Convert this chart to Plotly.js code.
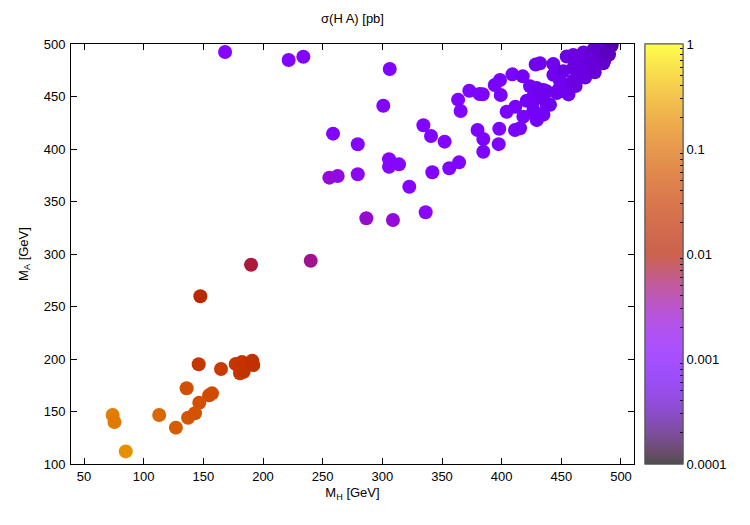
<!DOCTYPE html>
<html>
<head>
<meta charset="utf-8">
<script src="https://cdn.plot.ly/plotly-3.0.1.min.js"></script>
<style>html,body{margin:0;padding:0;background:#fff;}#chart{width:750px;height:525px;}</style>
</head>
<body>
<div id="chart"></div>
<script>
// M_H [GeV]
var mH = [
  74, 75.5, 85, 113, 127, 136, 137.2, 143, 146.6, 146.1, 147.5, 154.8, 157.3, 164.8, 177.1, 182.4, 180.7, 183.8, 191, 191.9, 190, 240,
  168.2, 221.5, 233.8, 306.2, 300.8, 258.7, 279.4, 334.4, 340.8, 352.2, 305.6, 305.6, 314, 255.6, 262.6, 279.4, 341.9, 322.6,
  286.6, 308.9, 336.3, 356.1, 364.3, 363.5, 365.6, 372.9, 381.5, 384.1, 379.8, 384.6, 384.6, 397.5, 398, 394.2, 398.6, 399.2,
  409, 417.7, 404.2, 411.5, 411.2, 415.4, 418.2, 421, 426.6, 430.8, 429.4, 423.8, 426.6, 428.5, 432.1, 443.3, 443.3, 435,
  437.7, 447.5, 457.3, 454.5, 460, 468.5, 476.8, 483.8, 492.2, 476.8, 482.4, 471.2, 465.7, 460, 485.2, 451.7, 448.9, 460,
  465.7, 474, 482.4, 488, 468.5, 479.6, 451.7, 446.1, 437.7, 429.4, 426.6, 435, 440.5, 435, 429.4, 456, 462, 470, 478, 486, 490
];
// M_A [GeV]
var mA = [
  146.7, 140, 112, 146.7, 134.6, 172.1, 144.1, 148.3, 158.4, 195, 259.7, 165.4, 167.3, 190.5, 195.2, 197.1, 186.4, 187.9, 198.4, 194.3, 289.8, 293.6,
  492.4, 484.8, 487.9, 476.2, 441.2, 414.6, 404.5, 422.6, 412.4, 407, 390.2, 383.1, 385.4, 372.7, 374.3, 375.9, 377.8, 364.1,
  334, 332.4, 339.7, 381.6, 387.3, 447, 436.2, 455.5, 452.4, 452.1, 418.1, 409.5, 397.4, 404.6, 419.3, 460.9, 465.7, 451.4,
  471.1, 469.2, 435.5, 440.3, 418.1, 419.7, 430.8, 446, 437.1, 432.4, 427.6, 459.8, 450, 480.5, 481.6, 481, 470.6, 456.2,
  441.9, 456.2, 462, 488.1, 489.6, 492, 494.6, 496.2, 498.5, 484.8, 491.1, 478.4, 472.1, 465, 481.6, 474, 464.5, 477.1,
  483.5, 486.7, 488.3, 491.4, 477.1, 480.3, 454.9, 453.3, 454.9, 458.1, 445.4, 448.6, 442.2, 432.7, 429.5, 452, 460, 468, 473, 484, 490
];
// sigma(H A) [pb]
var sigma = [
  0.14, 0.13, 0.2, 0.09, 0.07, 0.05, 0.06, 0.055, 0.05, 0.025, 0.014, 0.045, 0.045, 0.03, 0.025, 0.022, 0.025, 0.022, 0.02, 0.02, 0.007, 0.0042,
  0.0013, 0.0011, 0.0011, 0.001, 0.001, 0.0011, 0.0012, 0.001, 0.001, 0.001, 0.0012, 0.0012, 0.0012, 0.0023, 0.002, 0.0016, 0.0011, 0.0013,
  0.0025, 0.0022, 0.0015, 0.001, 0.001, 0.001, 0.001, 0.0009, 0.0009, 0.0009, 0.0009, 0.0009, 0.0009, 0.0009, 0.0009, 0.0008, 0.0008, 0.0008,
  0.0008, 0.0007, 0.0008, 0.0008, 0.0008, 0.0008, 0.0008, 0.0007, 0.0007, 0.0007, 0.0007, 0.0007, 0.0007, 0.0006, 0.0006, 0.0006, 0.0006, 0.0006,
  0.0007, 0.0006, 0.0005, 0.0005, 0.0005, 0.0005, 0.0004, 0.0004, 0.0003, 0.00045, 0.0004, 0.00045, 0.0005, 0.0005, 0.0004, 0.0005, 0.0006, 0.0005,
  0.0005, 0.00045, 0.0004, 0.00035, 0.0005, 0.00045, 0.0006, 0.0006, 0.0006, 0.0006, 0.0007, 0.0006, 0.0006, 0.0007, 0.0007, 0.0006, 0.0005, 0.0005, 0.00045, 0.0004, 0.00035
];
var cbTickValues = [0.0001, 0.001, 0.01, 0.1, 1];
var cbTickLabels = ["0.0001", "0.001", "0.01", "0.1", "1"];
var xTicks = [50, 100, 150, 200, 250, 300, 350, 400, 450, 500];
var yTicks = [100, 150, 200, 250, 300, 350, 400, 450, 500];

// gnuplot-like palette (rgbformulae 7,5,15)
function pal(t, alpha) {
  var r = Math.sqrt(t), g = Math.pow(t, 3), b = Math.max(0, Math.sin(2 * Math.PI * t));
  function c(v) { return Math.round(255 * (v * alpha + (1 - alpha))); }
  return 'rgb(' + c(r) + ',' + c(g) + ',' + c(b) + ')';
}
function scale(alpha) {
  var s = [];
  for (var i = 0; i <= 40; i++) { var t = i / 40; s.push([t, pal(t, alpha)]); }
  return s;
}
var logSigma = sigma.map(function (v) { return Math.log10(v); });
var majorVals = cbTickValues.map(function (v) { return Math.log10(v); });
var minorVals = [];
for (var d = -4; d < 0; d++) { for (var k = 2; k <= 9; k++) minorVals.push(d + Math.log10(k)); }

var font = {family: 'Liberation Sans, Arial, sans-serif', size: 13, color: '#000'};
var cbBase = {
  x: 1.0195, xanchor: 'left', xref: 'paper', y: 0.5, yanchor: 'middle', len: 1, lenmode: 'fraction',
  thickness: 38, thicknessmode: 'pixels', outlinewidth: 1, outlinecolor: '#555', xpad: 0, ypad: 0,
  tickmode: 'array', ticks: 'inside', tickcolor: '#000', tickfont: font
};

var traces = [
  {
    type: 'scatter', mode: 'markers', x: mH, y: mA, showlegend: false, hoverinfo: 'x+y',
    marker: {size: 14, color: logSigma, colorscale: scale(1), cmin: -4, cmax: 0, showscale: false, line: {width: 0}}
  },
  {
    type: 'scatter', mode: 'markers', x: [null], y: [null], showlegend: false, hoverinfo: 'skip',
    marker: {size: 1, color: [-4], colorscale: scale(0.7), cmin: -4, cmax: 0, showscale: true,
      colorbar: Object.assign({}, cbBase, {tickvals: majorVals, ticktext: cbTickLabels, ticklen: 6, tickwidth: 1, ticklabelposition: 'outside'})}
  },
  {
    type: 'scatter', mode: 'markers', x: [null], y: [null], showlegend: false, hoverinfo: 'skip',
    marker: {size: 1, color: [-4], colorscale: scale(0.7), cmin: -4, cmax: 0, showscale: true,
      colorbar: Object.assign({}, cbBase, {tickvals: minorVals, ticklen: 3, tickwidth: 1, showticklabels: false})}
  }
];

var axisCommon = {
  showgrid: false, zeroline: false, showline: true, linecolor: '#000', linewidth: 1, mirror: 'ticks',
  ticks: 'inside', ticklen: 6, tickwidth: 1, tickcolor: '#000', tickfont: font, tickmode: 'array'
};
var layout = {
  width: 750, height: 525,
  margin: {l: 71, r: 116, t: 44, b: 61, pad: 0},
  paper_bgcolor: '#fff', plot_bgcolor: '#fff',
  font: font,
  title: {text: 'σ(H A) [pb]', font: font, x: 0.5, xref: 'paper', xanchor: 'center', y: 0.965, yanchor: 'middle'},
  xaxis: Object.assign({}, axisCommon, {range: [39.1, 510.9], tickvals: xTicks, title: {text: 'M<sub>H</sub> [GeV]', font: font, standoff: 5}}),
  yaxis: Object.assign({}, axisCommon, {range: [100, 500], tickvals: yTicks, ticklabelstandoff: 2, title: {text: 'M<sub>A</sub> [GeV]', font: font, standoff: 12}})
};
Plotly.newPlot('chart', traces, layout, {staticPlot: true, displayModeBar: false});
</script>
</body>
</html>
